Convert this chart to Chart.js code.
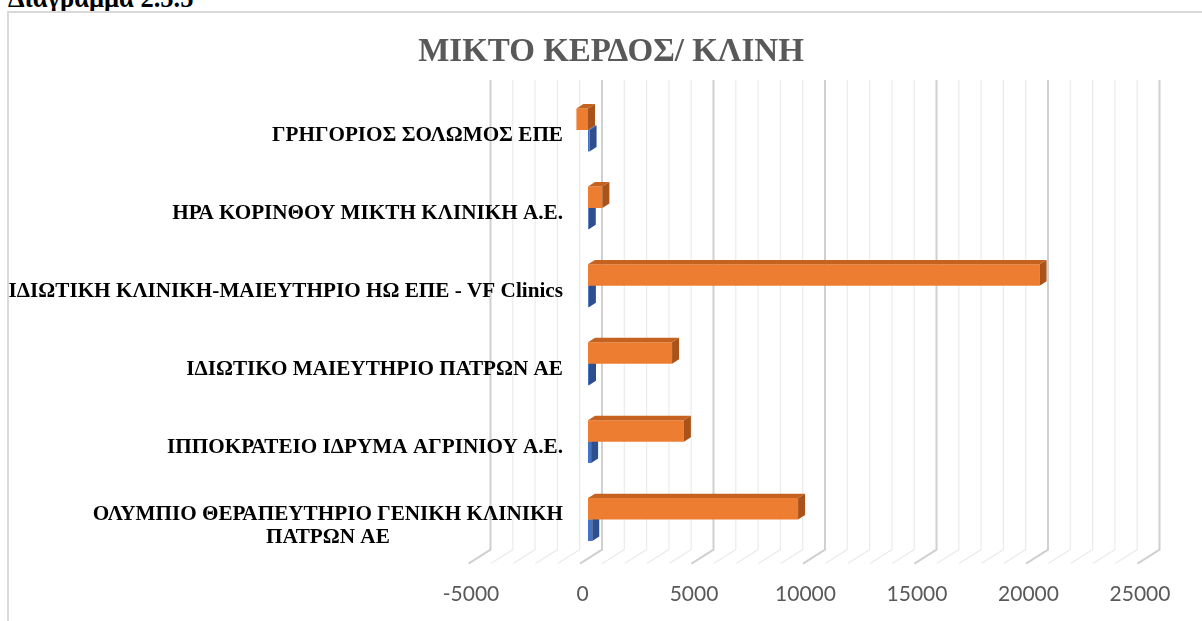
<!DOCTYPE html>
<html>
<head>
<meta charset="utf-8">
<script src="https://cdn.jsdelivr.net/npm/chart.js@4.4.1/dist/chart.umd.min.js"></script>
<style>
  html, body { margin: 0; padding: 0; width: 1202px; height: 621px; overflow: hidden; background: #fff; }
  #caption { position: absolute; left: 8px; top: -15px; font: bold 26.5px/26px "Liberation Serif", serif; color: #000; white-space: nowrap; }
  #frame { position: absolute; left: 7px; top: 11px; width: 1300px; height: 700px; border: 2px solid #d9d9d9; overflow: hidden; }
  #barChart { position: absolute; left: 0; top: 0; }
</style>
</head>
<body>
<div id="caption">Διάγραμμα 2.5.5</div>
<div id="frame"><canvas id="barChart" width="1204" height="608"></canvas></div>
<script>
// categories listed top to bottom as they appear
const categories = [
    'ΓΡΗΓΟΡΙΟΣ ΣΟΛΩΜΟΣ ΕΠΕ',
    'ΗΡΑ ΚΟΡΙΝΘΟΥ ΜΙΚΤΗ ΚΛΙΝΙΚΗ Α.Ε.',
    'ΙΔΙΩΤΙΚΗ ΚΛΙΝΙΚΗ-ΜΑΙΕΥΤΗΡΙΟ ΗΩ ΕΠΕ - VF Clinics',
    'ΙΔΙΩΤΙΚΟ ΜΑΙΕΥΤΗΡΙΟ ΠΑΤΡΩΝ ΑΕ',
    'ΙΠΠΟΚΡΑΤΕΙΟ ΙΔΡΥΜΑ ΑΓΡΙΝΙΟΥ Α.Ε.',
    ['ΟΛΥΜΠΙΟ ΘΕΡΑΠΕΥΤΗΡΙΟ ΓΕΝΙΚΗ ΚΛΙΝΙΚΗ', 'ΠΑΤΡΩΝ ΑΕ'],
];

const orangeValues = [-520, 645, 20250, 3770, 4300, 9420];
const blueValues = [70, 35, 40, 45, 140, 190];

const axisMin = -5000;
const axisMax = 25000;
const minorStep = 1000;
const majorStep = 5000;

// depth of the fake 3d box
const depth = { dx: 22, dy: -14, barFront: 8, bar: 7 };

const shades = [
    { front: '#ED7D31', top: '#C5621F', side: '#A9531A' },
    { front: '#4472C4', top: '#3A63AB', side: '#2E4F8E' },
];

const wallGrid = {
    id: 'wallGrid',
    beforeDatasetsDraw(chart) {
        const ctx = chart.ctx;
        const xs = chart.scales.x;
        const area = chart.chartArea;
        const k = depth.dy / depth.dx;
        const back = depth.dx - depth.barFront;
        const front = -depth.barFront;
        const topY = area.top - 11;
        const backY = area.bottom + back * k;
        const frontY = area.bottom + front * k;
        ctx.save();
        xs.ticks.forEach(t => {
            const x = xs.getPixelForValue(t.value);
            const major = t.value % majorStep === 0;
            ctx.strokeStyle = major ? '#d0d0d0' : '#ebebeb';
            ctx.lineWidth = major ? 2 : 1.2;
            ctx.beginPath();
            ctx.moveTo(x + back, topY);
            ctx.lineTo(x + back, backY);
            ctx.lineTo(x + front, frontY);
            ctx.stroke();
        });
        ctx.restore();
    }
};

const barFaces = {
    id: 'barFaces',
    afterDatasetDraw(chart, args) {
        const ctx = chart.ctx;
        const c = shades[args.index];
        const dx = depth.bar;
        const dy = depth.bar * depth.dy / depth.dx;
        ctx.save();
        args.meta.data.forEach(bar => {
            const p = bar.getProps(['x', 'y', 'base', 'height'], true);
            const l = Math.min(p.x, p.base);
            const r = Math.max(p.x, p.base);
            const t = p.y - p.height / 2;
            const b = p.y + p.height / 2;
            ctx.fillStyle = c.top;
            ctx.beginPath();
            ctx.moveTo(l, t);
            ctx.lineTo(r, t);
            ctx.lineTo(r + dx, t + dy);
            ctx.lineTo(l + dx, t + dy);
            ctx.closePath();
            ctx.fill();
            ctx.fillStyle = c.side;
            ctx.beginPath();
            ctx.moveTo(r, t);
            ctx.lineTo(r + dx, t + dy);
            ctx.lineTo(r + dx, b + dy);
            ctx.lineTo(r, b);
            ctx.closePath();
            ctx.fill();
        });
        ctx.restore();
    }
};

// category labels, centred lines in a block right-aligned to the wall
const categoryLabels = {
    id: 'categoryLabels',
    afterDraw(chart) {
        const ctx = chart.ctx;
        const ys = chart.scales.y;
        const rightEdge = 554;
        const lineH = 23;
        ctx.save();
        ctx.font = 'bold 21.2px "Liberation Serif", serif';
        ctx.fillStyle = '#000';
        ctx.textAlign = 'center';
        ctx.textBaseline = 'middle';
        categories.forEach((label, i) => {
            const lines = Array.isArray(label) ? label : [label];
            const widest = Math.max(...lines.map(s => ctx.measureText(s).width));
            const cx = rightEdge - widest / 2;
            const cy = ys.getPixelForValue(i) + 6;
            lines.forEach((s, j) => {
                ctx.fillText(s, cx, cy + (j - (lines.length - 1) / 2) * lineH);
            });
        });
        ctx.restore();
    }
};

const barChartData = {
    labels: categories,
    datasets: [{
        label: 'Σειρά2',
        data: orangeValues,
        backgroundColor: shades[0].front,
        categoryPercentage: 0.55,
        barPercentage: 1,
    }, {
        label: 'Σειρά1',
        data: blueValues,
        backgroundColor: shades[1].front,
        categoryPercentage: 0.55,
        barPercentage: 1,
    }]
};

const hiddenAxis = {
    grid: { display: false, drawTicks: false },
    border: { display: false },
    ticks: { display: false },
};

const barChartConfig = {
    type: 'bar',
    data: barChartData,
    plugins: [wallGrid, barFaces, categoryLabels],
    options: {
        indexAxis: 'y',
        responsive: false,
        animation: false,
        layout: { padding: 0 },
        scales: {
            x: {
                min: axisMin,
                max: axisMax,
                grid: { display: false, drawTicks: false },
                border: { display: false },
                ticks: {
                    stepSize: minorStep,
                    autoSkip: false,
                    maxRotation: 0,
                    padding: 23,
                    labelOffset: -5.5,
                    color: '#595959',
                    font: { family: 'Lato', size: 21 },
                    callback: (v) => (v % majorStep === 0 ? String(v) : ''),
                },
                afterFit: (s) => { s.height = 62.5; },
            },
            y: {
                ...hiddenAxis,
                afterFit: (s) => { s.width = 467.5; },
            },
            yRight: {
                type: 'linear',
                position: 'right',
                ...hiddenAxis,
                afterFit: (s) => { s.width = 67.5; },
            }
        },
        plugins: {
            legend: { display: false },
            tooltip: { enabled: false },
            title: {
                display: true,
                text: 'ΜΙΚΤΟ ΚΕΡΔΟΣ/ ΚΛΙΝΗ',
                color: '#595959',
                font: { family: 'Liberation Serif', size: 33, weight: 'bold' },
                padding: { top: 19.6, bottom: 18.8 },
            }
        }
    }
};

const barChart = new Chart(
    document.getElementById('barChart'),
    barChartConfig
);
</script>
</body>
</html>
